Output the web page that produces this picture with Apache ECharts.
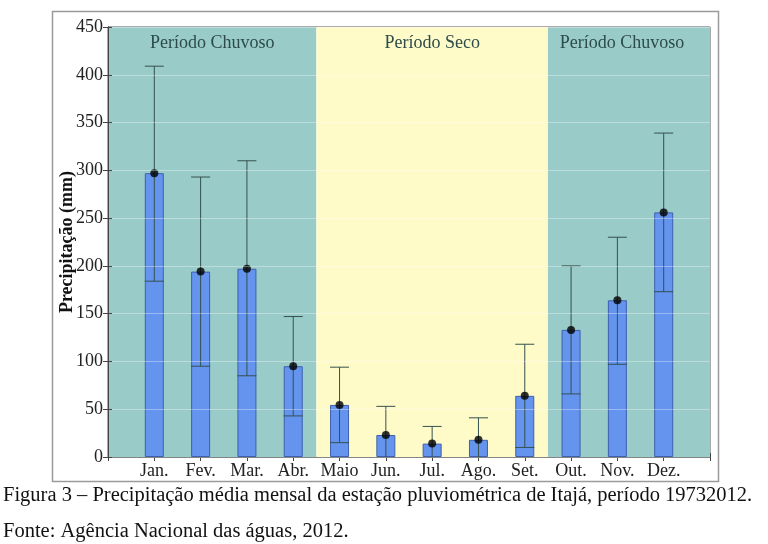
<!DOCTYPE html>
<html><head><meta charset="utf-8">
<script src="https://cdn.jsdelivr.net/npm/echarts@6/dist/echarts.min.js"></script>
<style>html,body{margin:0;padding:0;background:#fff}#c{width:768px;height:544px}</style>
</head><body><div id="c"></div>
<script>
var months = ['Jan.','Fev.','Mar.','Abr.','Maio','Jun.','Jul.','Ago.','Set.','Out.','Nov.','Dez.'];
var meanVals = [297, 194, 197, 95, 54.5, 23, 14, 18, 64, 133, 164, 256];
var upperVals = [409, 293, 310, 147, 94, 53, 32, 41, 118, 200, 230, 339];
var lowerVals = [184, 95, 85, 43, 15, -7, -4, -5, 10, 66, 97, 173];
var periods = [
  {name:'Período Chuvoso', from:0, to:4.5, color:'#99cbc8'},
  {name:'Período Seco', from:4.5, to:9.5, color:'#fefbc9'},
  {name:'Período Chuvoso', from:9.5, to:13, color:'#99cbc8'}
];
var yTicks = [0,50,100,150,200,250,300,350,400,450];

var FONT = '"Liberation Serif","DejaVu Serif",serif';
var BARW = 19;
var barData = meanVals.map(function(v,i){return [i+1, v];});
var errData = meanVals.map(function(v,i){return [i+1, lowerVals[i], upperVals[i]];});

var chart = echarts.init(document.getElementById('c'));
chart.setOption({
  animation:false,
  textStyle:{fontFamily:FONT},
  grid:{left:108, top:27, right:58, bottom:87, show:true, borderColor:'#555', borderWidth:1},
  xAxis:[{
    type:'value', min:0, max:13, interval:1, position:'bottom',
    axisLine:{show:true, lineStyle:{color:'#444'}},
    axisTick:{show:true, inside:true, length:4, lineStyle:{color:'#444'}},
    splitLine:{show:false},
    axisLabel:{fontFamily:FONT, fontSize:18, color:'#222', margin:5,
      formatter:function(v){return (v>=1&&v<=12)?months[v-1]:'';}}
  },{
    type:'value', min:0, max:13, interval:1, position:'top',
    axisLine:{show:true, lineStyle:{color:'#444'}},
    axisTick:{show:true, inside:true, length:4, lineStyle:{color:'#444'}},
    splitLine:{show:false}, axisLabel:{show:false}
  }],
  yAxis:[{
    type:'value', min:0, max:450, interval:50, z:10,
    name:'Precipitação (mm)', nameLocation:'middle', nameGap:32, nameMoveOverlap:false,
    nameTextStyle:{fontFamily:FONT, fontSize:18, fontWeight:'bold', color:'#111'},
    axisLine:{show:true, lineStyle:{color:'#444'}},
    axisTick:{show:true, inside:true, length:4, lineStyle:{color:'#444'}},
    splitLine:{show:true, lineStyle:{color:'rgba(255,255,255,0.35)', width:1}},
    axisLabel:{fontFamily:FONT, fontSize:18, color:'#222', margin:5,
      formatter:function(v){return yTicks.indexOf(v)>=0?String(v):'';}}
  },{
    type:'value', min:0, max:450, interval:50, position:'right',
    axisLine:{show:true, lineStyle:{color:'#444'}},
    axisTick:{show:true, inside:true, length:5, lineStyle:{color:'#444'}},
    splitLine:{show:false}, axisLabel:{show:false}
  }],
  graphic:[
    {type:'rect', shape:{x:52.5,y:11.5,width:666,height:470}, style:{fill:'none', stroke:'#9a9a9a', lineWidth:1.5}, z:-1, silent:true},
    {type:'text', left:3, top:485, style:{text:'Figura 3 – Precipitação média mensal da estação pluviométrica de Itajá, período 19732012.', font:'20.5px '+FONT, fill:'#111'}},
    {type:'text', left:3, top:521, style:{text:'Fonte: Agência Nacional das águas, 2012.', font:'20.5px '+FONT, fill:'#111'}}
  ],
  series:[
    {
      type:'line', data:[], z:1, silent:true,
      markArea:{silent:true,
        data: periods.map(function(p,i){
          return [{xAxis:p.from, yAxis:0, itemStyle:{color:p.color},
                   label:{show:true, position:'insideTop', distance:6, offset:[i===2?-7:0,1], formatter:p.name,
                          fontFamily:FONT, fontSize:18, color:'#2d4b4b'}},
                  {xAxis:p.to, yAxis:450}];
        })
      }
    },
    {
      type:'bar', data:barData, barWidth:BARW, z:3,
      itemStyle:{color:'#6594ef', borderColor:'#3d5fae', borderWidth:1}
    },
    {
      type:'custom', data:errData, z:5,
      encode:{x:0, y:[1,2]},
      renderItem:function(params, api){
        var x = api.value(0);
        var lo = api.coord([x, api.value(1)]);
        var hi = api.coord([x, api.value(2)]);
        var h = BARW/2;
        var st = {stroke:'#34514f', lineWidth:1};
        return {type:'group', children:[
          {type:'line', shape:{x1:lo[0], y1:lo[1], x2:hi[0], y2:hi[1]}, style:st},
          {type:'line', shape:{x1:hi[0]-h, y1:hi[1], x2:hi[0]+h, y2:hi[1]}, style:st},
          {type:'line', shape:{x1:lo[0]-h, y1:lo[1], x2:lo[0]+h, y2:lo[1]}, style:st}
        ]};
      },
      clip:true
    },
    {
      type:'scatter', data:barData, symbol:'circle', symbolSize:8, z:6,
      itemStyle:{color:'#000'}
    }
  ]
});
</script></body></html>
